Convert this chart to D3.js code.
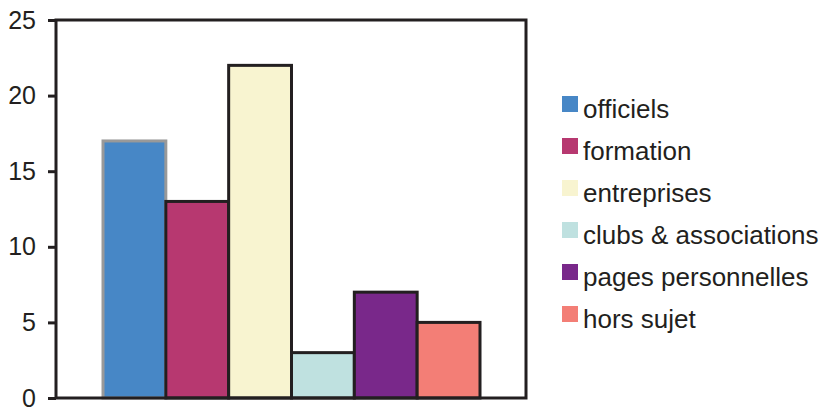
<!DOCTYPE html>
<html><head><meta charset="utf-8">
<script src="https://cdn.jsdelivr.net/npm/d3@7"></script>
<style>body{margin:0;background:#fff}svg{display:block}</style>
</head><body>
<svg id="chart" width="820" height="408"></svg>
<script>
const categories = ["officiels","formation","entreprises","clubs & associations","pages personnelles","hors sujet"];
const values = [17, 13, 22, 3, 7, 5];
const colors = ["#4787c6","#b73870","#f8f4d0","#bfe1e0","#79288a","#f37e76"];
const strokes = ["#999999","#231f20","#231f20","#231f20","#231f20","#231f20"];
const yTicks = [0,5,10,15,20,25];

(function(){
const svg = d3.select("#chart");
const mLeft = 56, mRight = 526, mTop = 20, mBottom = 398;
const font = "'Liberation Sans', Arial, sans-serif";

const y = d3.scaleLinear().domain([0,25]).range([mBottom, mTop]);
const x = d3.scaleBand().domain(categories).range([103, 480]).padding(0);

// bars
svg.append("g").selectAll("rect").data(categories).join("rect")
  .attr("x", d => x(d))
  .attr("y", (d,i) => y(values[i]))
  .attr("width", x.bandwidth())
  .attr("height", (d,i) => y(0) - y(values[i]))
  .attr("fill", (d,i) => colors[i])
  .attr("stroke", (d,i) => strokes[i])
  .attr("stroke-width", 3);

// frame
svg.append("rect").attr("x", mLeft).attr("y", mTop)
  .attr("width", mRight-mLeft).attr("height", mBottom-mTop)
  .attr("fill","none").attr("stroke","#231f20").attr("stroke-width",3);

// y axis
const yAxis = d3.axisLeft(y).tickValues(yTicks).tickSize(8).tickPadding(12).tickFormat(d3.format("d"));
const ga = svg.append("g").attr("transform", `translate(${mLeft},0)`).call(yAxis);
ga.select(".domain").remove();
ga.selectAll("line").attr("stroke","#231f20").attr("stroke-width",3);
ga.selectAll("text").attr("font-family", font).attr("font-size", 25).attr("fill","#231f20");

// legend
const lg = svg.append("g").selectAll("g").data(categories).join("g")
  .attr("transform", (d,i) => `translate(562,${96 + i*42})`);
lg.append("rect").attr("width",16).attr("height",16).attr("fill",(d,i)=>colors[i]);
lg.append("text").attr("x",21).attr("y",22).text(d=>d)
  .attr("font-family", font).attr("font-size", 26).attr("fill","#231f20");
})();
</script>
</body></html>
